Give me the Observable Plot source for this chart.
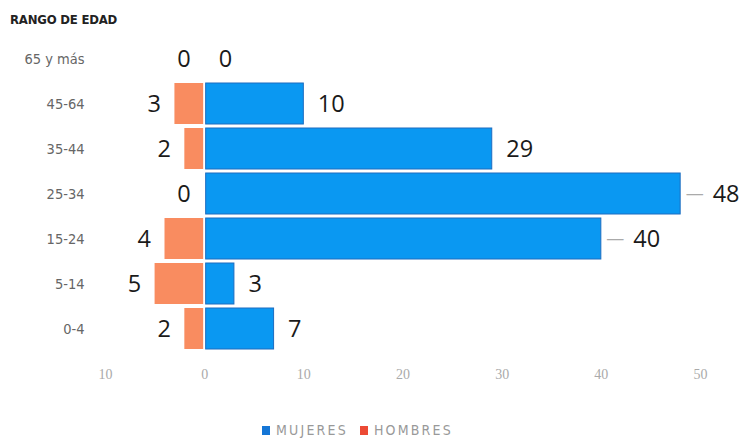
<!DOCTYPE html>
<html>
<head>
<meta charset="utf-8">
<script src="https://cdn.jsdelivr.net/npm/d3@7"></script>
<script src="https://cdn.jsdelivr.net/npm/@observablehq/plot@0.6"></script>
<style>
  html, body { margin: 0; padding: 0; background: #fff; }
  #wrap { position: relative; width: 744px; height: 438px; overflow: hidden; }
  #title { position: absolute; left: 10px; top: 12px; font: 700 13px "DejaVu Sans Condensed", "DejaVu Sans", sans-serif; color: #222; letter-spacing: -0.2px; }
  #chart { position: absolute; left: 0; top: 0; }
  #legend { position: absolute; top: 422px; left: 262px; display: flex; align-items: center; font: 14px "DejaVu Sans Condensed", sans-serif; color: #999; letter-spacing: 2.2px; }
  .sw { display: inline-block; width: 8px; height: 9px; margin-right: 6px; }
</style>
</head>
<body>
<div id="wrap">
  <div id="chart"></div>
  <div id="title">RANGO DE EDAD</div>
  <div id="legend">
    <span class="sw" style="background:#1576d6"></span><span style="margin-right:12px">MUJERES</span>
    <span class="sw" style="background:#ec4a35"></span><span>HOMBRES</span>
  </div>
</div>
<script>
const ageGroups = ["65 y más", "45-64", "35-44", "25-34", "15-24", "5-14", "0-4"];
const mujeres = [0, 10, 29, 48, 40, 3, 7];
const hombres = [0, 3, 2, 0, 4, 5, 2];
const xTicks = [-10, 0, 10, 20, 30, 40, 50];

const rows = ageGroups.map((g, i) => ({ group: g, w: mujeres[i], m: hombres[i] }));
const leader = d => d.w >= 40;

const plot = Plot.plot({
  width: 744,
  height: 400,
  marginLeft: 105,
  marginRight: 44,
  marginTop: 37,
  marginBottom: 50,
  style: { fontFamily: "'Open Sans', sans-serif", background: "#fff" },
  x: { domain: [-10, 50], ticks: xTicks },
  y: { domain: ageGroups, paddingInner: 0.1, paddingOuter: 0 },
  marks: [
    Plot.barX(rows, { y: "group", x1: d => -d.m, x2: 0, fill: "#f98c60", insetRight: 1 }),
    Plot.barX(rows, { y: "group", x1: 0, x2: "w", fill: "#0a98f2", stroke: "#1c6cc0", strokeWidth: 1, insetLeft: 1.5 }),
    Plot.text(rows, { y: "group", x: d => -d.m, text: d => String(d.m), textAnchor: "end", dx: -14, fontSize: 23.5, fill: "#1a1a1a" }),
    Plot.text(rows.filter(d => !leader(d)), { y: "group", x: "w", text: d => String(d.w), textAnchor: "start", dx: 14, fontSize: 23.5, fill: "#1a1a1a" }),
    Plot.text(rows.filter(leader), { y: "group", x: "w", text: () => "—", textAnchor: "start", dx: 5, fontSize: 18, fill: "#aaa" }),
    Plot.text(rows.filter(leader), { y: "group", x: "w", text: d => String(d.w), textAnchor: "start", dx: 32, fontSize: 23.5, fill: "#1a1a1a" }),
    Plot.axisY({ tickSize: 0, tickPadding: 21, fontSize: 14.5, fill: "#666", fontFamily: "'DejaVu Sans Condensed', sans-serif", label: null }),
    Plot.axisX({ ticks: xTicks, tickSize: 0, tickPadding: 19, tickFormat: d => String(Math.abs(d)), fontSize: 14, fill: "#aaa", fontFamily: "'Liberation Serif', serif", label: null })
  ]
});
document.getElementById("chart").appendChild(plot);
</script>
</body>
</html>
